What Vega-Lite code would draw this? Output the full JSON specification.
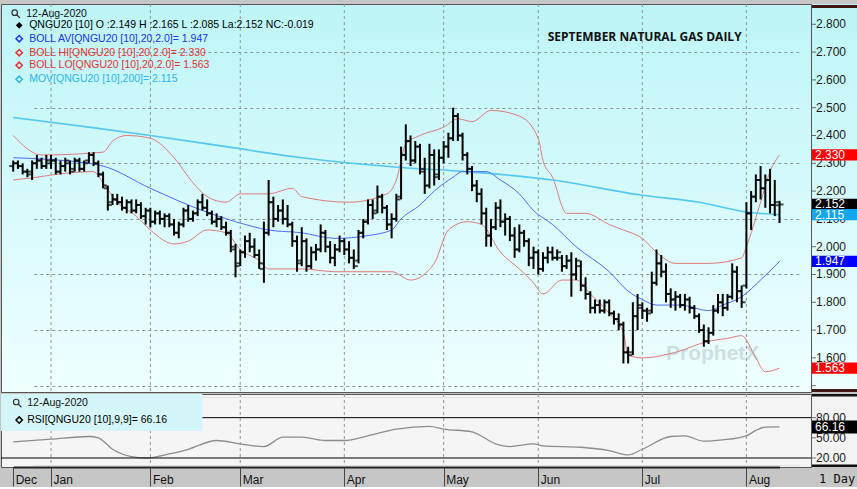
{
 "$schema": "https://vega.github.io/schema/vega-lite/v6.json",
 "background": "#c6c6c6",
 "padding": {"left": 0, "top": 3, "right": 0, "bottom": 0},
 "spacing": 0,
 "config": {"font": "Liberation Sans"},
 "resolve": {"scale": {"x": "shared"}},
 "datasets": {
  "one": [{}],
  "months": [{"d":"2020-01-02"},{"d":"2020-02-03"},{"d":"2020-03-02"},{"d":"2020-04-01"},{"d":"2020-05-01"},{"d":"2020-06-01"},{"d":"2020-07-01"},{"d":"2020-08-03"}],
  "yticks": [{"v":1.5},{"v":1.6},{"v":1.7},{"v":1.8},{"v":1.9},{"v":2.0},{"v":2.1},{"v":2.2},{"v":2.3},{"v":2.4},{"v":2.5},{"v":2.6},{"v":2.7},{"v":2.8}],
  "ylabels": [{"v":1.6},{"v":1.7},{"v":1.8},{"v":1.9},{"v":2.0},{"v":2.1},{"v":2.2},{"v":2.3},{"v":2.4},{"v":2.5},{"v":2.6},{"v":2.7},{"v":2.8}],
  "rticks": [{"v":20},{"v":50},{"v":80}],
  "bars": [
   {"d":"2019-12-19","o":2.29,"h":2.31,"l":2.27,"c":2.30},
   {"d":"2019-12-20","o":2.30,"h":2.31,"l":2.28,"c":2.29},
   {"d":"2019-12-23","o":2.29,"h":2.30,"l":2.26,"c":2.27},
   {"d":"2019-12-24","o":2.27,"h":2.28,"l":2.25,"c":2.26},
   {"d":"2019-12-26","o":2.27,"h":2.31,"l":2.24,"c":2.30},
   {"d":"2019-12-27","o":2.30,"h":2.33,"l":2.28,"c":2.31},
   {"d":"2019-12-30","o":2.31,"h":2.32,"l":2.28,"c":2.29},
   {"d":"2019-12-31","o":2.29,"h":2.33,"l":2.28,"c":2.31},
   {"d":"2020-01-02","o":2.30,"h":2.33,"l":2.28,"c":2.31},
   {"d":"2020-01-03","o":2.31,"h":2.32,"l":2.26,"c":2.27},
   {"d":"2020-01-06","o":2.27,"h":2.31,"l":2.26,"c":2.29},
   {"d":"2020-01-07","o":2.29,"h":2.32,"l":2.27,"c":2.31},
   {"d":"2020-01-08","o":2.30,"h":2.31,"l":2.26,"c":2.27},
   {"d":"2020-01-09","o":2.28,"h":2.32,"l":2.27,"c":2.31},
   {"d":"2020-01-10","o":2.31,"h":2.32,"l":2.27,"c":2.28},
   {"d":"2020-01-13","o":2.28,"h":2.31,"l":2.27,"c":2.30},
   {"d":"2020-01-14","o":2.31,"h":2.34,"l":2.30,"c":2.33},
   {"d":"2020-01-15","o":2.33,"h":2.34,"l":2.29,"c":2.30},
   {"d":"2020-01-16","o":2.30,"h":2.31,"l":2.25,"c":2.26},
   {"d":"2020-01-17","o":2.26,"h":2.27,"l":2.21,"c":2.22},
   {"d":"2020-01-21","o":2.21,"h":2.22,"l":2.13,"c":2.15},
   {"d":"2020-01-22","o":2.16,"h":2.19,"l":2.15,"c":2.17},
   {"d":"2020-01-23","o":2.17,"h":2.19,"l":2.15,"c":2.16},
   {"d":"2020-01-24","o":2.16,"h":2.18,"l":2.13,"c":2.14},
   {"d":"2020-01-27","o":2.14,"h":2.17,"l":2.12,"c":2.16},
   {"d":"2020-01-28","o":2.16,"h":2.17,"l":2.12,"c":2.13},
   {"d":"2020-01-29","o":2.13,"h":2.17,"l":2.12,"c":2.15},
   {"d":"2020-01-30","o":2.15,"h":2.16,"l":2.10,"c":2.11},
   {"d":"2020-01-31","o":2.11,"h":2.14,"l":2.08,"c":2.13},
   {"d":"2020-02-03","o":2.13,"h":2.14,"l":2.07,"c":2.09},
   {"d":"2020-02-04","o":2.09,"h":2.13,"l":2.08,"c":2.12},
   {"d":"2020-02-05","o":2.12,"h":2.13,"l":2.08,"c":2.10},
   {"d":"2020-02-06","o":2.10,"h":2.12,"l":2.07,"c":2.11},
   {"d":"2020-02-07","o":2.11,"h":2.12,"l":2.07,"c":2.08},
   {"d":"2020-02-10","o":2.08,"h":2.10,"l":2.04,"c":2.05},
   {"d":"2020-02-11","o":2.05,"h":2.09,"l":2.03,"c":2.08},
   {"d":"2020-02-12","o":2.08,"h":2.14,"l":2.07,"c":2.13},
   {"d":"2020-02-13","o":2.13,"h":2.15,"l":2.09,"c":2.10},
   {"d":"2020-02-14","o":2.10,"h":2.13,"l":2.09,"c":2.12},
   {"d":"2020-02-18","o":2.12,"h":2.17,"l":2.11,"c":2.16},
   {"d":"2020-02-19","o":2.16,"h":2.19,"l":2.13,"c":2.14},
   {"d":"2020-02-20","o":2.14,"h":2.17,"l":2.11,"c":2.12},
   {"d":"2020-02-21","o":2.12,"h":2.13,"l":2.08,"c":2.09},
   {"d":"2020-02-24","o":2.09,"h":2.12,"l":2.07,"c":2.10},
   {"d":"2020-02-25","o":2.10,"h":2.11,"l":2.06,"c":2.07},
   {"d":"2020-02-26","o":2.07,"h":2.09,"l":2.04,"c":2.05},
   {"d":"2020-02-27","o":2.05,"h":2.06,"l":1.98,"c":2.00},
   {"d":"2020-02-28","o":1.99,"h":2.01,"l":1.89,"c":1.93},
   {"d":"2020-03-02","o":1.94,"h":1.99,"l":1.93,"c":1.98},
   {"d":"2020-03-03","o":1.98,"h":2.04,"l":1.96,"c":2.02},
   {"d":"2020-03-04","o":2.02,"h":2.05,"l":1.98,"c":2.00},
   {"d":"2020-03-05","o":2.00,"h":2.03,"l":1.96,"c":1.97},
   {"d":"2020-03-06","o":1.97,"h":1.99,"l":1.92,"c":1.94},
   {"d":"2020-03-09","o":1.92,"h":2.09,"l":1.87,"c":2.05},
   {"d":"2020-03-10","o":2.05,"h":2.24,"l":2.04,"c":2.16},
   {"d":"2020-03-11","o":2.16,"h":2.18,"l":2.07,"c":2.10},
   {"d":"2020-03-12","o":2.10,"h":2.15,"l":2.09,"c":2.13},
   {"d":"2020-03-13","o":2.13,"h":2.17,"l":2.08,"c":2.10},
   {"d":"2020-03-16","o":2.10,"h":2.15,"l":2.07,"c":2.08},
   {"d":"2020-03-17","o":2.08,"h":2.09,"l":2.00,"c":2.02},
   {"d":"2020-03-18","o":2.02,"h":2.04,"l":1.91,"c":1.94},
   {"d":"2020-03-19","o":1.95,"h":2.07,"l":1.93,"c":2.02},
   {"d":"2020-03-20","o":2.02,"h":2.03,"l":1.91,"c":1.93},
   {"d":"2020-03-23","o":1.93,"h":2.00,"l":1.92,"c":1.98},
   {"d":"2020-03-24","o":1.98,"h":2.01,"l":1.95,"c":1.99},
   {"d":"2020-03-25","o":1.99,"h":2.08,"l":1.98,"c":2.05},
   {"d":"2020-03-26","o":2.05,"h":2.06,"l":1.98,"c":2.00},
   {"d":"2020-03-27","o":2.00,"h":2.02,"l":1.94,"c":1.96},
   {"d":"2020-03-30","o":1.96,"h":2.01,"l":1.93,"c":1.99},
   {"d":"2020-03-31","o":1.99,"h":2.04,"l":1.98,"c":2.02},
   {"d":"2020-04-01","o":2.02,"h":2.03,"l":1.97,"c":1.99},
   {"d":"2020-04-02","o":1.99,"h":2.02,"l":1.94,"c":1.96},
   {"d":"2020-04-03","o":1.96,"h":1.99,"l":1.92,"c":1.93},
   {"d":"2020-04-06","o":1.95,"h":2.06,"l":1.94,"c":2.05},
   {"d":"2020-04-07","o":2.05,"h":2.10,"l":2.03,"c":2.09},
   {"d":"2020-04-08","o":2.09,"h":2.17,"l":2.08,"c":2.15},
   {"d":"2020-04-09","o":2.15,"h":2.17,"l":2.10,"c":2.12},
   {"d":"2020-04-13","o":2.13,"h":2.22,"l":2.12,"c":2.18},
   {"d":"2020-04-14","o":2.18,"h":2.19,"l":2.12,"c":2.14},
   {"d":"2020-04-15","o":2.14,"h":2.15,"l":2.06,"c":2.08},
   {"d":"2020-04-16","o":2.08,"h":2.12,"l":2.03,"c":2.10},
   {"d":"2020-04-17","o":2.10,"h":2.19,"l":2.09,"c":2.17},
   {"d":"2020-04-20","o":2.18,"h":2.36,"l":2.17,"c":2.33},
   {"d":"2020-04-21","o":2.33,"h":2.44,"l":2.31,"c":2.38},
   {"d":"2020-04-22","o":2.38,"h":2.40,"l":2.29,"c":2.31},
   {"d":"2020-04-23","o":2.31,"h":2.38,"l":2.30,"c":2.36},
   {"d":"2020-04-24","o":2.36,"h":2.37,"l":2.26,"c":2.28},
   {"d":"2020-04-27","o":2.27,"h":2.32,"l":2.19,"c":2.22},
   {"d":"2020-04-28","o":2.22,"h":2.37,"l":2.21,"c":2.33},
   {"d":"2020-04-29","o":2.33,"h":2.35,"l":2.22,"c":2.25},
   {"d":"2020-04-30","o":2.26,"h":2.35,"l":2.24,"c":2.32},
   {"d":"2020-05-01","o":2.32,"h":2.38,"l":2.30,"c":2.36},
   {"d":"2020-05-04","o":2.36,"h":2.41,"l":2.32,"c":2.39},
   {"d":"2020-05-05","o":2.39,"h":2.50,"l":2.38,"c":2.47},
   {"d":"2020-05-06","o":2.47,"h":2.48,"l":2.38,"c":2.40},
   {"d":"2020-05-07","o":2.40,"h":2.41,"l":2.31,"c":2.33},
   {"d":"2020-05-08","o":2.33,"h":2.34,"l":2.26,"c":2.28},
   {"d":"2020-05-11","o":2.28,"h":2.29,"l":2.20,"c":2.22},
   {"d":"2020-05-12","o":2.22,"h":2.24,"l":2.16,"c":2.19},
   {"d":"2020-05-13","o":2.19,"h":2.21,"l":2.08,"c":2.12},
   {"d":"2020-05-14","o":2.12,"h":2.14,"l":2.00,"c":2.04},
   {"d":"2020-05-15","o":2.04,"h":2.10,"l":2.00,"c":2.07},
   {"d":"2020-05-18","o":2.07,"h":2.16,"l":2.06,"c":2.14},
   {"d":"2020-05-19","o":2.14,"h":2.17,"l":2.07,"c":2.09},
   {"d":"2020-05-20","o":2.09,"h":2.12,"l":2.04,"c":2.10},
   {"d":"2020-05-21","o":2.10,"h":2.11,"l":2.02,"c":2.04},
   {"d":"2020-05-22","o":2.04,"h":2.07,"l":1.96,"c":1.99},
   {"d":"2020-05-26","o":1.99,"h":2.08,"l":1.98,"c":2.05},
   {"d":"2020-05-27","o":2.05,"h":2.06,"l":2.00,"c":2.02},
   {"d":"2020-05-28","o":2.02,"h":2.03,"l":1.93,"c":1.96},
   {"d":"2020-05-29","o":1.96,"h":2.00,"l":1.92,"c":1.98},
   {"d":"2020-06-01","o":1.98,"h":1.99,"l":1.90,"c":1.92},
   {"d":"2020-06-02","o":1.92,"h":1.98,"l":1.91,"c":1.96},
   {"d":"2020-06-03","o":1.96,"h":2.00,"l":1.94,"c":1.98},
   {"d":"2020-06-04","o":1.98,"h":2.00,"l":1.95,"c":1.96},
   {"d":"2020-06-05","o":1.96,"h":1.99,"l":1.95,"c":1.98},
   {"d":"2020-06-08","o":1.96,"h":1.97,"l":1.91,"c":1.93},
   {"d":"2020-06-09","o":1.93,"h":1.97,"l":1.92,"c":1.95},
   {"d":"2020-06-10","o":1.95,"h":1.98,"l":1.82,"c":1.90},
   {"d":"2020-06-11","o":1.90,"h":1.96,"l":1.88,"c":1.95},
   {"d":"2020-06-12","o":1.93,"h":1.95,"l":1.84,"c":1.86},
   {"d":"2020-06-15","o":1.86,"h":1.89,"l":1.81,"c":1.83},
   {"d":"2020-06-16","o":1.83,"h":1.84,"l":1.76,"c":1.78},
   {"d":"2020-06-17","o":1.78,"h":1.81,"l":1.76,"c":1.79},
   {"d":"2020-06-18","o":1.79,"h":1.81,"l":1.76,"c":1.77},
   {"d":"2020-06-19","o":1.77,"h":1.81,"l":1.76,"c":1.80},
   {"d":"2020-06-22","o":1.80,"h":1.81,"l":1.75,"c":1.76},
   {"d":"2020-06-23","o":1.76,"h":1.77,"l":1.72,"c":1.74},
   {"d":"2020-06-24","o":1.74,"h":1.76,"l":1.70,"c":1.72},
   {"d":"2020-06-25","o":1.72,"h":1.73,"l":1.58,"c":1.62},
   {"d":"2020-06-26","o":1.62,"h":1.64,"l":1.58,"c":1.61},
   {"d":"2020-06-29","o":1.62,"h":1.80,"l":1.61,"c":1.75},
   {"d":"2020-06-30","o":1.75,"h":1.83,"l":1.70,"c":1.79},
   {"d":"2020-07-01","o":1.78,"h":1.80,"l":1.74,"c":1.77},
   {"d":"2020-07-02","o":1.77,"h":1.78,"l":1.73,"c":1.76},
   {"d":"2020-07-06","o":1.77,"h":1.91,"l":1.76,"c":1.87},
   {"d":"2020-07-07","o":1.87,"h":1.99,"l":1.86,"c":1.94},
   {"d":"2020-07-08","o":1.94,"h":1.97,"l":1.89,"c":1.91},
   {"d":"2020-07-09","o":1.91,"h":1.94,"l":1.80,"c":1.83},
   {"d":"2020-07-10","o":1.83,"h":1.85,"l":1.78,"c":1.81},
   {"d":"2020-07-13","o":1.81,"h":1.84,"l":1.77,"c":1.82},
   {"d":"2020-07-14","o":1.82,"h":1.83,"l":1.78,"c":1.79},
   {"d":"2020-07-15","o":1.79,"h":1.83,"l":1.77,"c":1.81},
   {"d":"2020-07-16","o":1.81,"h":1.82,"l":1.76,"c":1.78},
   {"d":"2020-07-17","o":1.78,"h":1.79,"l":1.74,"c":1.75},
   {"d":"2020-07-20","o":1.75,"h":1.76,"l":1.69,"c":1.70},
   {"d":"2020-07-21","o":1.70,"h":1.72,"l":1.64,"c":1.66},
   {"d":"2020-07-22","o":1.66,"h":1.71,"l":1.65,"c":1.69},
   {"d":"2020-07-23","o":1.69,"h":1.79,"l":1.68,"c":1.77},
   {"d":"2020-07-24","o":1.77,"h":1.83,"l":1.76,"c":1.80},
   {"d":"2020-07-27","o":1.80,"h":1.83,"l":1.75,"c":1.78},
   {"d":"2020-07-28","o":1.78,"h":1.83,"l":1.77,"c":1.82},
   {"d":"2020-07-29","o":1.82,"h":1.94,"l":1.81,"c":1.91},
   {"d":"2020-07-30","o":1.91,"h":1.93,"l":1.80,"c":1.84},
   {"d":"2020-07-31","o":1.84,"h":1.86,"l":1.78,"c":1.80},
   {"d":"2020-08-03","o":1.86,"h":2.16,"l":1.85,"c":2.12},
   {"d":"2020-08-04","o":2.12,"h":2.20,"l":2.06,"c":2.18},
   {"d":"2020-08-05","o":2.18,"h":2.26,"l":2.16,"c":2.24},
   {"d":"2020-08-06","o":2.24,"h":2.29,"l":2.17,"c":2.21},
   {"d":"2020-08-07","o":2.21,"h":2.26,"l":2.14,"c":2.24},
   {"d":"2020-08-10","o":2.24,"h":2.28,"l":2.12,"c":2.15},
   {"d":"2020-08-11","o":2.15,"h":2.24,"l":2.11,"c":2.16},
   {"d":"2020-08-12","o":2.149,"h":2.165,"l":2.085,"c":2.152}
  ],
  "mov": [
   {"d":"2019-12-19","v":2.465},{"d":"2020-01-14","v":2.43},{"d":"2020-02-03","v":2.40},{"d":"2020-02-26","v":2.36},
   {"d":"2020-03-19","v":2.32},{"d":"2020-04-20","v":2.285},{"d":"2020-05-08","v":2.27},{"d":"2020-06-04","v":2.24},
   {"d":"2020-07-01","v":2.185},{"d":"2020-07-20","v":2.16},{"d":"2020-08-03","v":2.125},{"d":"2020-08-12","v":2.115}
  ],
  "bav": [
   {"d":"2019-12-19","v":2.32},{"d":"2020-01-14","v":2.30},{"d":"2020-01-17","v":2.29},{"d":"2020-02-03","v":2.21},
   {"d":"2020-02-19","v":2.13},{"d":"2020-02-28","v":2.09},{"d":"2020-03-10","v":2.06},{"d":"2020-03-19","v":2.05},
   {"d":"2020-03-30","v":2.03},{"d":"2020-04-08","v":2.04},{"d":"2020-04-16","v":2.06},{"d":"2020-04-20","v":2.10},
   {"d":"2020-04-24","v":2.15},{"d":"2020-04-29","v":2.20},{"d":"2020-05-05","v":2.25},{"d":"2020-05-07","v":2.27},
   {"d":"2020-05-14","v":2.27},{"d":"2020-05-19","v":2.24},{"d":"2020-05-26","v":2.19},{"d":"2020-05-29","v":2.13},
   {"d":"2020-06-04","v":2.08},{"d":"2020-06-11","v":2.00},{"d":"2020-06-22","v":1.91},{"d":"2020-06-26","v":1.84},
   {"d":"2020-07-01","v":1.81},{"d":"2020-07-07","v":1.79},{"d":"2020-07-14","v":1.79},{"d":"2020-07-22","v":1.77},
   {"d":"2020-07-27","v":1.79},{"d":"2020-07-31","v":1.82},{"d":"2020-08-06","v":1.88},{"d":"2020-08-12","v":1.947}
  ],
  "bhi": [
   {"d":"2019-12-19","v":2.40},{"d":"2019-12-30","v":2.33},{"d":"2020-01-17","v":2.34},{"d":"2020-01-22","v":2.38},
   {"d":"2020-01-27","v":2.40},{"d":"2020-02-03","v":2.39},{"d":"2020-02-10","v":2.32},{"d":"2020-02-14","v":2.23},
   {"d":"2020-02-20","v":2.18},{"d":"2020-02-26","v":2.16},{"d":"2020-03-02","v":2.19},{"d":"2020-03-10","v":2.19},
   {"d":"2020-03-17","v":2.21},{"d":"2020-03-19","v":2.18},{"d":"2020-04-02","v":2.16},{"d":"2020-04-15","v":2.19},
   {"d":"2020-04-17","v":2.24},{"d":"2020-04-21","v":2.37},{"d":"2020-04-24","v":2.40},{"d":"2020-05-01","v":2.43},
   {"d":"2020-05-06","v":2.46},{"d":"2020-05-11","v":2.45},{"d":"2020-05-15","v":2.49},{"d":"2020-05-26","v":2.47},
   {"d":"2020-06-01","v":2.39},{"d":"2020-06-02","v":2.31},{"d":"2020-06-04","v":2.25},{"d":"2020-06-09","v":2.12},
   {"d":"2020-06-15","v":2.12},{"d":"2020-06-22","v":2.08},{"d":"2020-06-25","v":2.06},{"d":"2020-07-01","v":2.03},
   {"d":"2020-07-07","v":1.98},{"d":"2020-07-13","v":1.94},{"d":"2020-07-22","v":1.94},{"d":"2020-07-31","v":1.96},
   {"d":"2020-08-03","v":2.00},{"d":"2020-08-06","v":2.16},{"d":"2020-08-10","v":2.27},{"d":"2020-08-12","v":2.33}
  ],
  "blo": [
   {"d":"2019-12-19","v":2.24},{"d":"2019-12-27","v":2.25},{"d":"2020-01-03","v":2.26},{"d":"2020-01-15","v":2.27},
   {"d":"2020-01-17","v":2.23},{"d":"2020-01-23","v":2.16},{"d":"2020-01-29","v":2.11},{"d":"2020-02-03","v":2.06},
   {"d":"2020-02-10","v":2.01},{"d":"2020-02-13","v":2.02},{"d":"2020-02-20","v":2.06},{"d":"2020-02-26","v":2.05},
   {"d":"2020-03-02","v":1.99},{"d":"2020-03-06","v":1.95},{"d":"2020-03-10","v":1.92},{"d":"2020-03-19","v":1.92},
   {"d":"2020-03-30","v":1.91},{"d":"2020-04-07","v":1.91},{"d":"2020-04-16","v":1.91},{"d":"2020-04-22","v":1.88},
   {"d":"2020-04-29","v":1.94},{"d":"2020-05-04","v":2.06},{"d":"2020-05-08","v":2.09},{"d":"2020-05-13","v":2.08},
   {"d":"2020-05-19","v":1.98},{"d":"2020-05-26","v":1.92},{"d":"2020-05-29","v":1.87},{"d":"2020-06-02","v":1.83},
   {"d":"2020-06-08","v":1.88},{"d":"2020-06-11","v":1.88},{"d":"2020-06-16","v":1.83},{"d":"2020-06-22","v":1.76},
   {"d":"2020-06-25","v":1.69},{"d":"2020-06-26","v":1.61},{"d":"2020-07-01","v":1.60},{"d":"2020-07-13","v":1.62},
   {"d":"2020-07-22","v":1.66},{"d":"2020-07-28","v":1.67},{"d":"2020-07-31","v":1.68},{"d":"2020-08-05","v":1.60},
   {"d":"2020-08-07","v":1.55},{"d":"2020-08-12","v":1.563}
  ],
  "rsi": [
   {"d":"2019-12-19","v":44},{"d":"2020-01-02","v":48},{"d":"2020-01-14","v":52},{"d":"2020-01-16","v":50},
   {"d":"2020-01-22","v":33},{"d":"2020-01-28","v":22},{"d":"2020-01-31","v":20},{"d":"2020-02-07","v":26},
   {"d":"2020-02-13","v":33},{"d":"2020-02-24","v":46},{"d":"2020-03-02","v":41},{"d":"2020-03-09","v":37},
   {"d":"2020-03-13","v":51},{"d":"2020-03-19","v":51},{"d":"2020-03-26","v":46},{"d":"2020-04-01","v":46},
   {"d":"2020-04-08","v":53},{"d":"2020-04-17","v":63},{"d":"2020-04-28","v":67},{"d":"2020-05-01","v":63},
   {"d":"2020-05-11","v":59},{"d":"2020-05-18","v":41},{"d":"2020-05-21","v":37},{"d":"2020-05-29","v":41},
   {"d":"2020-06-02","v":38},{"d":"2020-06-12","v":36},{"d":"2020-06-22","v":31},{"d":"2020-06-26","v":24.5},
   {"d":"2020-07-01","v":33},{"d":"2020-07-10","v":52},{"d":"2020-07-15","v":53},{"d":"2020-07-21","v":45},
   {"d":"2020-07-27","v":47},{"d":"2020-08-03","v":53},{"d":"2020-08-05","v":61},{"d":"2020-08-07","v":66},
   {"d":"2020-08-12","v":66.16}
  ],
  "last": [
   {"s":"hi","v":2.330},{"s":"close","v":2.152},{"s":"mov","v":2.115},{"s":"av","v":1.947},{"s":"lo","v":1.563}
  ],
  "rsilast": [{"v":66.16}],
  "rsilevels": [{"v":20},{"v":80}]
 },
 "vconcat": [
  {
   "width": 810,
   "height": 388,
   "view": {"fill": {"gradient": "linear", "x1": 0, "y1": 0, "x2": 0, "y2": 1, "stops": [{"offset": 0, "color": "#bdf5f7"}, {"offset": 1, "color": "#f0ffff"}]}, "stroke": "#555"},
   "encoding": {
    "x": {"field": "d", "type": "ordinal", "title": null,
     "scale": {"type": "point", "range": [12.2, 778.5], "padding": 0},
     "axis": null}
   },
   "layer": [
    {"data": {"name": "one"}, "mark": {"type": "point", "shape": "M-1,-8.435H1V8.435H-1Z", "size": 2116, "filled": true, "opacity": 1, "strokeWidth": 0, "xOffset": 24,
      "fill": {"gradient": "linear", "x1": 0, "y1": 0, "x2": 0, "y2": 1, "stops": [{"offset": 0, "color": "#bdf5f7"}, {"offset": 1, "color": "#f0ffff"}]}},
     "encoding": {"x": {"value": "width"}, "y": {"datum": 2.17515, "type": "quantitative"}}},
    {"data": {"name": "one"}, "mark": {"type": "point", "shape": "M-1,-0.0652H1V0.0652H-1Z", "size": 2116, "filled": true, "opacity": 1, "strokeWidth": 0, "xOffset": 24, "color": "#3e1812"},
     "encoding": {"x": {"value": "width"}, "y": {"datum": 2.864, "type": "quantitative"}}},
    {"data": {"name": "one"}, "mark": {"type": "point", "shape": "M-1,-0.0652H1V0.0652H-1Z", "size": 2116, "filled": true, "opacity": 1, "strokeWidth": 0, "xOffset": 24, "color": "#3e1812"},
     "encoding": {"x": {"value": "width"}, "y": {"datum": 1.4828, "type": "quantitative"}}},
    {"data": {"name": "months"}, "mark": {"type": "rule", "color": "#8d9797", "strokeWidth": 1, "strokeDash": [3, 3]},
     "encoding": {}},
    {"data": {"name": "bhi"}, "mark": {"type": "line", "color": "#e07a7a", "strokeWidth": 1, "interpolate": "monotone"},
     "encoding": {"y": {"field": "v", "type": "quantitative", "title": null,
      "scale": {"domain": [1.4773, 2.8730], "nice": false, "zero": false},
      "axis": {"orient": "right", "values": [1.5,1.6,1.7,1.8,1.9,2.0,2.1,2.2,2.3,2.4,2.5,2.6,2.7,2.8],
       "labels": false, "ticks": false, "domain": false,
       "grid": true, "gridDash": [3, 3], "gridColor": "#8d9797"}}}},
    {"data": {"name": "blo"}, "mark": {"type": "line", "color": "#e07a7a", "strokeWidth": 1, "interpolate": "monotone"},
     "encoding": {"y": {"field": "v", "type": "quantitative", "title": null}}},
    {"data": {"name": "mov"}, "mark": {"type": "line", "color": "#55c8f2", "strokeWidth": 1.6, "interpolate": "monotone"},
     "encoding": {"y": {"field": "v", "type": "quantitative", "title": null}}},
    {"data": {"name": "bav"}, "mark": {"type": "line", "color": "#4d6cff", "strokeWidth": 1, "interpolate": "monotone"},
     "encoding": {"y": {"field": "v", "type": "quantitative", "title": null}}},
    {"data": {"name": "bars"}, "mark": {"type": "rule", "color": "#000", "strokeWidth": 2},
     "encoding": {"y": {"field": "l", "type": "quantitative", "title": null}, "y2": {"field": "h"}}},
    {"data": {"name": "bars"}, "mark": {"type": "tick", "color": "#000", "size": 4, "thickness": 2, "xOffset": -2},
     "encoding": {"y": {"field": "o", "type": "quantitative", "title": null}}},
    {"data": {"name": "bars"}, "mark": {"type": "tick", "color": "#000", "size": 4, "thickness": 2, "xOffset": 2},
     "encoding": {"y": {"field": "c", "type": "quantitative", "title": null}}},
    {"data": {"name": "yticks"}, "mark": {"type": "tick", "color": "#333", "size": 4, "thickness": 1, "xOffset": 3},
     "encoding": {"x": {"value": "width"}, "y": {"field": "v", "type": "quantitative", "title": null}}},
    {"data": {"name": "ylabels"}, "mark": {"type": "text", "align": "left", "baseline": "middle", "dx": 5, "fontSize": 12, "color": "#1a1a1a"},
     "encoding": {"x": {"value": "width"}, "y": {"field": "v", "type": "quantitative", "title": null},
      "text": {"field": "v", "type": "quantitative", "format": ".3f"}}},
    {"data": {"name": "one"}, "mark": {"type": "text", "text": "ProphetX", "align": "left", "baseline": "middle", "fontSize": 21, "fontWeight": "bold", "color": "#8a9a9a", "opacity": 0.3},
     "encoding": {"x": {"datum": "2020-07-09", "type": "ordinal"}, "y": {"datum": 1.615, "type": "quantitative"}}},
    {"data": {"name": "one"}, "mark": {"type": "point", "shape": "M0.35,-0.2A0.55,0.55 0 1 1 -0.75,-0.2A0.55,0.55 0 1 1 0.35,-0.2M0.2,0.2L0.85,0.85", "size": 100, "filled": false, "color": "#333", "strokeWidth": 1.2, "opacity": 1, "xOffset": 2.5},
     "encoding": {"x": {"datum": "2019-12-19", "type": "ordinal"}, "y": {"datum": 2.8381, "type": "quantitative"}}},
    {"data": {"name": "one"}, "mark": {"type": "text", "text": "12-Aug-2020", "align": "left", "baseline": "middle", "dx": 13, "fontSize": 10.5, "color": "#111"},
     "encoding": {"x": {"datum": "2019-12-19", "type": "ordinal"}, "y": {"datum": 2.8381, "type": "quantitative"}}},
    {"data": {"name": "one"}, "mark": {"type": "point", "shape": "diamond", "size": 45, "filled": true, "color": "#000", "opacity": 1, "xOffset": 6},
     "encoding": {"x": {"datum": "2019-12-19", "type": "ordinal"}, "y": {"datum": 2.7964, "type": "quantitative"}}},
    {"data": {"name": "one"}, "mark": {"type": "text", "text": "QNGU20 [10] O :2.149 H :2.165 L :2.085 La:2.152 NC:-0.019", "align": "left", "baseline": "middle", "dx": 16, "fontSize": 10.5, "color": "#000"},
     "encoding": {"x": {"datum": "2019-12-19", "type": "ordinal"}, "y": {"datum": 2.7964, "type": "quantitative"}}},
    {"data": {"name": "one"}, "mark": {"type": "point", "shape": "diamond", "size": 40, "filled": false, "color": "#2233ee", "strokeWidth": 1.5, "opacity": 1, "xOffset": 6},
     "encoding": {"x": {"datum": "2019-12-19", "type": "ordinal"}, "y": {"datum": 2.7482, "type": "quantitative"}}},
    {"data": {"name": "one"}, "mark": {"type": "text", "text": "BOLL AV[QNGU20 [10],20,2.0]= 1.947", "align": "left", "baseline": "middle", "dx": 16, "fontSize": 10.5, "color": "#2233ee"},
     "encoding": {"x": {"datum": "2019-12-19", "type": "ordinal"}, "y": {"datum": 2.7482, "type": "quantitative"}}},
    {"data": {"name": "one"}, "mark": {"type": "point", "shape": "diamond", "size": 40, "filled": false, "color": "#e83030", "strokeWidth": 1.5, "opacity": 1, "xOffset": 6},
     "encoding": {"x": {"datum": "2019-12-19", "type": "ordinal"}, "y": {"datum": 2.6978, "type": "quantitative"}}},
    {"data": {"name": "one"}, "mark": {"type": "text", "text": "BOLL HI[QNGU20 [10],20,2.0]= 2.330", "align": "left", "baseline": "middle", "dx": 16, "fontSize": 10.5, "color": "#e83030"},
     "encoding": {"x": {"datum": "2019-12-19", "type": "ordinal"}, "y": {"datum": 2.6978, "type": "quantitative"}}},
    {"data": {"name": "one"}, "mark": {"type": "point", "shape": "diamond", "size": 40, "filled": false, "color": "#e83030", "strokeWidth": 1.5, "opacity": 1, "xOffset": 6},
     "encoding": {"x": {"datum": "2019-12-19", "type": "ordinal"}, "y": {"datum": 2.6525, "type": "quantitative"}}},
    {"data": {"name": "one"}, "mark": {"type": "text", "text": "BOLL LO[QNGU20 [10],20,2.0]= 1.563", "align": "left", "baseline": "middle", "dx": 16, "fontSize": 10.5, "color": "#e83030"},
     "encoding": {"x": {"datum": "2019-12-19", "type": "ordinal"}, "y": {"datum": 2.6525, "type": "quantitative"}}},
    {"data": {"name": "one"}, "mark": {"type": "point", "shape": "diamond", "size": 40, "filled": false, "color": "#2eb4e8", "strokeWidth": 1.5, "opacity": 1, "xOffset": 6},
     "encoding": {"x": {"datum": "2019-12-19", "type": "ordinal"}, "y": {"datum": 2.6022, "type": "quantitative"}}},
    {"data": {"name": "one"}, "mark": {"type": "text", "text": "MOV[QNGU20 [10],200]= 2.115", "align": "left", "baseline": "middle", "dx": 16, "fontSize": 10.5, "color": "#2eb4e8"},
     "encoding": {"x": {"datum": "2019-12-19", "type": "ordinal"}, "y": {"datum": 2.6022, "type": "quantitative"}}},
    {"data": {"name": "one"}, "mark": {"type": "text", "text": "SEPTEMBER NATURAL GAS DAILY", "align": "left", "baseline": "middle", "fontSize": 12, "fontWeight": "bold", "font": "Open Sans", "color": "#111"},
     "encoding": {"x": {"datum": "2020-06-03", "type": "ordinal"}, "y": {"datum": 2.7554, "type": "quantitative"}}},
    {"data": {"name": "last"}, "mark": {"type": "point", "shape": "M-1,-0.25H1V0.25H-1Z", "size": 2025, "filled": true, "opacity": 1, "strokeWidth": 0, "xOffset": 23.5},
     "encoding": {"x": {"value": "width"}, "y": {"field": "v", "type": "quantitative", "title": null},
      "color": {"field": "s", "type": "nominal", "legend": null,
       "scale": {"domain": ["hi","close","mov","av","lo"], "range": ["#ff0000","#000000","#12a6ee","#0000ff","#ff0000"]}}}},
    {"data": {"name": "last"}, "mark": {"type": "text", "align": "left", "baseline": "middle", "dx": 4, "fontSize": 12, "color": "#ffffff"},
     "encoding": {"x": {"value": "width"}, "y": {"field": "v", "type": "quantitative", "title": null},
      "text": {"field": "v", "type": "quantitative", "format": ".3f"}}}
   ]
  },
  {
   "width": 810,
   "height": 73,
   "view": {"fill": "#f5f5f5", "stroke": "#555"},
   "encoding": {
    "x": {"field": "d", "type": "ordinal", "title": null,
     "scale": {"type": "point", "range": [12.2, 778.5], "padding": 0},
     "axis": {"values": ["2019-12-19","2020-01-02","2020-02-03","2020-03-02","2020-04-01","2020-05-01","2020-06-01","2020-07-01","2020-08-03"],
      "labelExpr": "['Jan','Feb','Mar','Apr','May','Jun','Jul','Aug','Sep','Oct','Nov','Dec'][toNumber(slice(datum.value,5,7))-1]",
      "labelAngle": 0, "grid": false,
      "tickSize": 19, "tickColor": "#444", "tickWidth": 1, "domain": true, "domainColor": "#222", "domainWidth": 2,
      "labelAlign": "left", "labelBaseline": "middle", "labelPadding": -7, "labelOffset": 2,
      "labelFontSize": 12, "labelColor": "#111", "labelOverlap": false}}
   },
   "layer": [
    {"data": {"name": "one"}, "mark": {"type": "point", "shape": "M-1,-1.587H1V1.587H-1Z", "size": 2116, "filled": true, "opacity": 1, "strokeWidth": 0, "xOffset": 24, "color": "#f3f3f3"},
     "encoding": {"x": {"value": "width"}, "y": {"datum": 60.9, "type": "quantitative"}}},
    {"data": {"name": "one"}, "mark": {"type": "point", "shape": "M-1,-0.0543H1V0.0543H-1Z", "size": 2116, "filled": true, "opacity": 1, "strokeWidth": 0, "xOffset": 24, "color": "#111"},
     "encoding": {"x": {"value": "width"}, "y": {"datum": 113.4, "type": "quantitative"}}},
    {"data": {"name": "one"}, "mark": {"type": "point", "shape": "M-1,-0.0543H1V0.0543H-1Z", "size": 2116, "filled": true, "opacity": 1, "strokeWidth": 0, "xOffset": 24, "color": "#111"},
     "encoding": {"x": {"value": "width"}, "y": {"datum": 8.4, "type": "quantitative"}}},
    {"data": {"name": "months"}, "mark": {"type": "rule", "color": "#8d9797", "strokeWidth": 1, "strokeDash": [3, 3]},
     "encoding": {}},
    {"data": {"name": "rsi"}, "mark": {"type": "line", "color": "#8c8c8c", "strokeWidth": 1.3, "interpolate": "monotone"},
     "encoding": {"y": {"field": "v", "type": "quantitative", "title": null,
      "scale": {"domain": [6.6, 115.2], "nice": false, "zero": false},
      "axis": {"orient": "right", "values": [10,15,25,30,35,40,45,50,55,60,65,70,75,85,90,95,100,105,110],
       "labels": false, "ticks": false, "domain": false, "grid": true, "gridColor": "#e2e2e2"}}}},
    {"data": {"name": "rsilevels"}, "mark": {"type": "rule", "color": "#000", "strokeWidth": 1},
     "encoding": {"x": {"value": 0}, "x2": {"value": "width"}, "y": {"field": "v", "type": "quantitative", "title": null}}},
    {"data": {"name": "rticks"}, "mark": {"type": "tick", "color": "#333", "size": 4, "thickness": 1, "xOffset": 3},
     "encoding": {"x": {"value": "width"}, "y": {"field": "v", "type": "quantitative", "title": null}}},
    {"data": {"name": "rticks"}, "mark": {"type": "text", "align": "left", "baseline": "middle", "dx": 5, "fontSize": 12, "color": "#1a1a1a"},
     "encoding": {"x": {"value": "width"}, "y": {"field": "v", "type": "quantitative", "title": null},
      "text": {"field": "v", "type": "quantitative", "format": ".2f"}}},
    {"data": {"name": "one"}, "mark": {"type": "rect", "color": "#d4f6f8", "xOffset": -12.2},
     "encoding": {"x": {"datum": "2019-12-19", "type": "ordinal"}, "x2": {"datum": "2020-02-19"},
      "y": {"datum": 115.2, "type": "quantitative"}, "y2": {"datum": 60}}},
    {"data": {"name": "one"}, "mark": {"type": "point", "shape": "M0.35,-0.2A0.55,0.55 0 1 1 -0.75,-0.2A0.55,0.55 0 1 1 0.35,-0.2M0.2,0.2L0.85,0.85", "size": 100, "filled": false, "color": "#333", "strokeWidth": 1.2, "opacity": 1, "xOffset": 4},
     "encoding": {"x": {"datum": "2019-12-19", "type": "ordinal"}, "y": {"datum": 101.8, "type": "quantitative"}}},
    {"data": {"name": "one"}, "mark": {"type": "text", "text": "12-Aug-2020", "align": "left", "baseline": "middle", "dx": 14, "fontSize": 10.5, "color": "#111"},
     "encoding": {"x": {"datum": "2019-12-19", "type": "ordinal"}, "y": {"datum": 101.8, "type": "quantitative"}}},
    {"data": {"name": "one"}, "mark": {"type": "point", "shape": "diamond", "size": 40, "filled": false, "color": "#000", "strokeWidth": 1.5, "opacity": 1, "xOffset": 6},
     "encoding": {"x": {"datum": "2019-12-19", "type": "ordinal"}, "y": {"datum": 76.5, "type": "quantitative"}}},
    {"data": {"name": "one"}, "mark": {"type": "text", "text": "RSI[QNGU20 [10],9,9]= 66.16", "align": "left", "baseline": "middle", "dx": 14, "fontSize": 10.5, "color": "#000"},
     "encoding": {"x": {"datum": "2019-12-19", "type": "ordinal"}, "y": {"datum": 76.5, "type": "quantitative"}}},
    {"data": {"name": "rsilast"}, "mark": {"type": "point", "shape": "M-1,-0.29H1V0.29H-1Z", "size": 2025, "filled": true, "color": "#000", "opacity": 1, "strokeWidth": 0, "xOffset": 23.5},
     "encoding": {"x": {"value": "width"}, "y": {"field": "v", "type": "quantitative", "title": null}}},
    {"data": {"name": "rsilast"}, "mark": {"type": "text", "align": "left", "baseline": "middle", "dx": 4, "fontSize": 12, "color": "#ffffff"},
     "encoding": {"x": {"value": "width"}, "y": {"field": "v", "type": "quantitative", "title": null},
      "text": {"field": "v", "type": "quantitative", "format": ".2f"}}},
    {"data": {"name": "one"}, "mark": {"type": "text", "text": "1 Day", "align": "left", "baseline": "middle", "dx": 8, "fontSize": 12, "font": "DejaVu Sans Mono", "color": "#111"},
     "encoding": {"x": {"value": "width"}, "y": {"datum": -11, "type": "quantitative"}}}
   ]
  }
 ]
}
